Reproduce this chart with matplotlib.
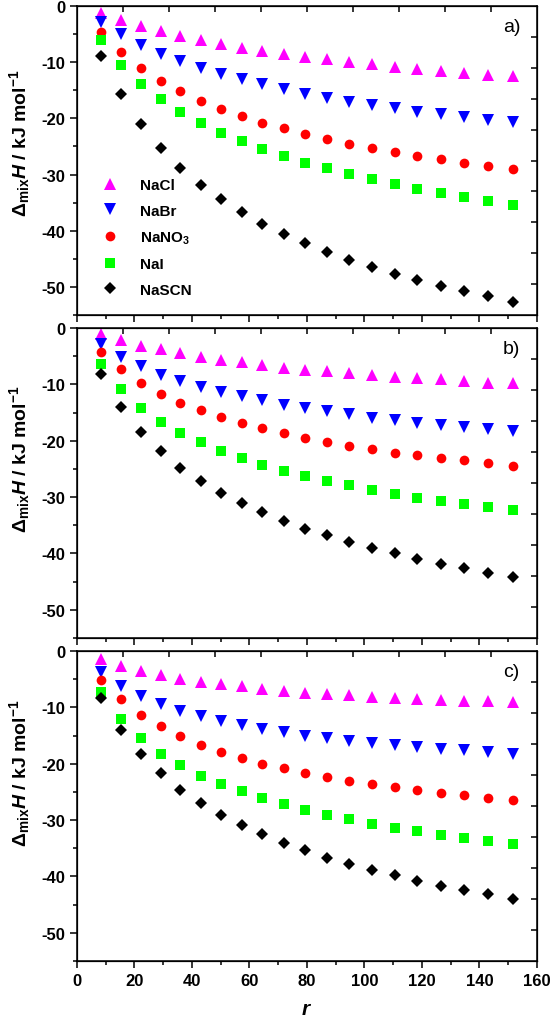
import matplotlib
matplotlib.use("Agg")
import matplotlib.pyplot as plt
from matplotlib.ticker import MultipleLocator

plt.rcParams["font.family"] = ["Liberation Sans", "DejaVu Sans"]
plt.rcParams["font.weight"] = "bold"
plt.rcParams["axes.unicode_minus"] = False
plt.rcParams["mathtext.fontset"] = "custom"
plt.rcParams["mathtext.rm"] = "Liberation Sans"
plt.rcParams["mathtext.it"] = "Liberation Sans:italic:bold"
plt.rcParams["mathtext.bf"] = "Liberation Sans:bold"

# r values (same for every panel)
r_vals = [8.5, 15.4, 22.1, 29.1, 35.9, 43.0, 50.1, 57.3, 64.5, 72.1,
          79.5, 87.1, 94.8, 102.6, 110.5, 118.4, 126.7, 134.7, 143.1, 151.6]

salts = ["NaCl", "NaBr", "NaNO$_{\\mathbf{3}}$", "NaI", "NaSCN"]
colors = ["#FF00FF", "#0000FF", "#FF0000", "#00FF00", "#000000"]
markers = ["^", "v", "o", "s", "D"]
msizes = [8, 8, 7, 6.5, 6.2]
panel_tags = ["a)", "b)", "c)"]

# panel a)
nacl_a = [-1.2, -2.5, -3.6, -4.5, -5.3, -6.0, -6.7, -7.5, -8.0, -8.5,
          -9.1, -9.5, -9.9, -10.4, -10.8, -11.2, -11.5, -11.9, -12.2, -12.5]
nabr_a = [-2.8, -5.0, -6.9, -8.5, -9.8, -11.0, -12.1, -13.0, -13.9, -14.8,
          -15.6, -16.3, -17.0, -17.6, -18.2, -18.8, -19.3, -19.8, -20.2, -20.7]
nano3_a = [-4.6, -8.2, -11.0, -13.3, -15.2, -16.9, -18.3, -19.6, -20.8, -21.8,
           -22.8, -23.7, -24.5, -25.3, -26.0, -26.7, -27.3, -27.9, -28.5, -29.0]
nai_a = [-6.0, -10.5, -13.9, -16.6, -18.9, -20.9, -22.6, -24.1, -25.4, -26.7,
         -27.9, -28.9, -29.9, -30.8, -31.7, -32.5, -33.3, -34.0, -34.7, -35.4]
nascn_a = [-8.9, -15.7, -21.0, -25.3, -28.9, -31.8, -34.4, -36.7, -38.8, -40.6,
           -42.2, -43.8, -45.2, -46.4, -47.7, -48.8, -49.8, -50.8, -51.7, -52.6]

# panel b)
nacl_b = [-1.0, -2.1, -3.1, -3.8, -4.4, -5.1, -5.7, -6.1, -6.6, -7.0,
          -7.4, -7.7, -8.0, -8.4, -8.7, -8.9, -9.1, -9.4, -9.7, -9.8]
nabr_b = [-2.8, -5.2, -6.8, -8.4, -9.4, -10.4, -11.3, -12.1, -12.8, -13.6,
          -14.2, -14.8, -15.3, -15.9, -16.4, -16.8, -17.2, -17.6, -17.9, -18.3]
nano3_b = [-4.3, -7.2, -9.7, -11.7, -13.3, -14.6, -15.8, -16.9, -17.8, -18.7,
           -19.5, -20.2, -20.9, -21.5, -22.1, -22.6, -23.1, -23.5, -24.0, -24.4]
nai_b = [-6.3, -10.9, -14.1, -16.7, -18.7, -20.3, -21.8, -23.1, -24.3, -25.3,
         -26.2, -27.1, -27.9, -28.7, -29.4, -30.1, -30.7, -31.3, -31.8, -32.3]
nascn_b = [-8.1, -14.0, -18.5, -21.9, -24.8, -27.2, -29.3, -31.1, -32.7, -34.2,
           -35.6, -36.8, -37.9, -39.0, -40.0, -40.9, -41.8, -42.5, -43.4, -44.1]

# panel c)
nacl_c = [-1.5, -2.7, -3.6, -4.3, -5.0, -5.5, -5.9, -6.3, -6.7, -7.1,
          -7.4, -7.7, -7.8, -8.1, -8.3, -8.5, -8.7, -8.8, -8.9, -9.0]
nabr_c = [-3.7, -6.2, -8.0, -9.4, -10.6, -11.6, -12.4, -13.2, -13.8, -14.4,
          -15.0, -15.5, -15.9, -16.4, -16.7, -17.1, -17.4, -17.6, -18.0, -18.3]
nano3_c = [-5.1, -8.5, -11.3, -13.3, -15.1, -16.6, -17.9, -19.0, -20.0, -20.8,
           -21.6, -22.3, -23.0, -23.6, -24.2, -24.7, -25.2, -25.6, -26.1, -26.5]
nai_c = [-7.2, -12.1, -15.5, -18.2, -20.3, -22.1, -23.6, -24.9, -26.1, -27.2,
         -28.2, -29.1, -29.9, -30.7, -31.4, -32.0, -32.6, -33.2, -33.8, -34.2]
nascn_c = [-8.4, -14.1, -18.3, -21.7, -24.6, -27.0, -29.1, -30.9, -32.5, -34.1,
           -35.4, -36.7, -37.8, -38.9, -39.8, -40.8, -41.7, -42.4, -43.2, -44.0]

panel_data = [
    [nacl_a, nabr_a, nano3_a, nai_a, nascn_a],
    [nacl_b, nabr_b, nano3_b, nai_b, nascn_b],
    [nacl_c, nabr_c, nano3_c, nai_c, nascn_c],
]

fig = plt.figure(figsize=(5.5, 10.2), dpi=100)
boxes = [
    [0.140, 0.6902, 0.836, 0.3029],
    [0.140, 0.3735, 0.836, 0.3039],
    [0.140, 0.0569, 0.836, 0.3039],
]
label_y = [0.56, 0.58, 0.61]

for i, (box, series) in enumerate(zip(boxes, panel_data)):
    ax = fig.add_axes(box)
    for vals, name, c, m, ms in zip(series, salts, colors, markers, msizes):
        ax.plot(r_vals, vals, linestyle="none", marker=m, color=c,
                markersize=ms, markeredgewidth=0, label=name)
    ax.set_xlim(0, 160)
    ax.set_ylim(-55, 0)
    ax.xaxis.set_major_locator(MultipleLocator(20))
    ax.xaxis.set_minor_locator(MultipleLocator(10))
    ax.yaxis.set_major_locator(MultipleLocator(10))
    ax.yaxis.set_minor_locator(MultipleLocator(5))
    for sp in ax.spines.values():
        sp.set_linewidth(1.1)
    ax.tick_params(axis="y", which="major", direction="out", length=5,
                   width=1.1, labelsize=12)
    ax.tick_params(axis="y", which="minor", direction="out", length=3, width=1.1)
    ax.tick_params(axis="x", which="major", direction="out", length=5,
                   width=1.1, labelsize=12)
    ax.tick_params(axis="x", which="minor", direction="out", length=3, width=1.1)
    if i < 2:
        ax.tick_params(axis="x", which="both", bottom=False, labelbottom=False)
    else:
        ax.set_xlabel("$\\mathit{r}$", fontsize=15, labelpad=8)
    ax.set_ylabel("$\\Delta_{\\mathrm{mix}}\\mathit{H}$ / kJ mol$^{\\mathrm{-1}}$",
                  fontsize=14, fontweight="bold")
    ax.yaxis.set_label_coords(-0.098, label_y[i])
    ax.text(0.945, 0.935, panel_tags[i], transform=ax.transAxes,
            fontsize=14, fontweight="normal", ha="center", va="center")

    # secondary frame ticks on top and right
    tw = ax.twinx()
    tw.set_ylim(0, 10)
    tw.set_yticks(range(1, 10))
    tw.tick_params(axis="y", direction="in", length=4, width=1.1, labelright=False)
    tx = ax.twiny()
    tx.set_xlim(0, 10)
    tx.set_xticks(range(1, 10))
    tx.tick_params(axis="x", direction="in", length=4, width=1.1, labeltop=False)

    if i == 0:
        ax.legend(loc="lower left", bbox_to_anchor=(0.025, 0.04), frameon=False,
                  fontsize=11, handletextpad=1.0, labelspacing=0.75,
                  borderaxespad=0)

fig.savefig("out.png", dpi=100)
